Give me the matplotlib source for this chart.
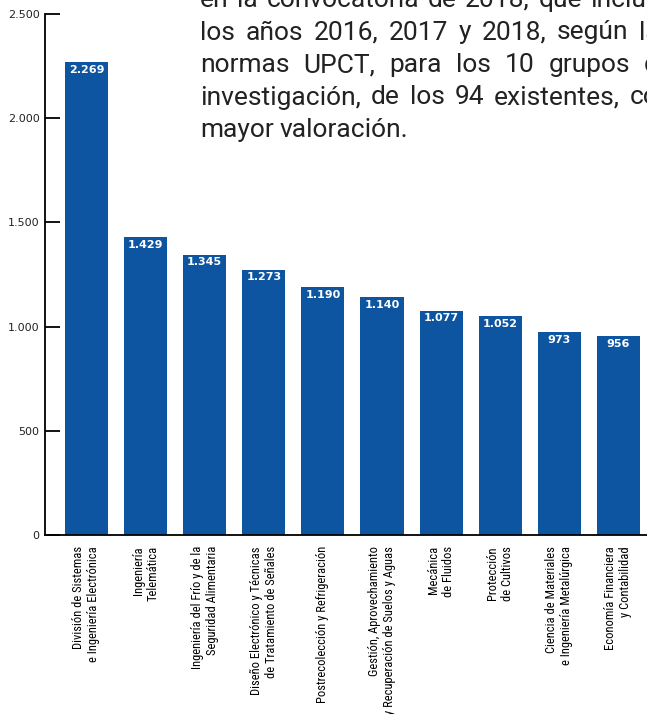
import matplotlib.pyplot as plt

grupos = [
    "División de Sistemas\ne Ingeniería Electrónica",
    "Ingeniería\nTelemática",
    "Ingeniería del Frío y de la\nSeguridad Alimentaria",
    "Diseño Electrónico y Técnicas\nde Tratamiento de Señales",
    "Postrecolección y Refrigeración",
    "Gestión, Aprovechamiento\ny Recuperación de Suelos y Aguas",
    "Mecánica\nde Fluidos",
    "Protección\nde Cultivos",
    "Ciencia de Materiales\ne Ingeniería Metalúrgica",
    "Economía Financiera\ny Contabilidad",
]
valoracion = [2269, 1429, 1345, 1273, 1190, 1140, 1077, 1052, 973, 956]
yticks = [0, 500, 1000, 1500, 2000, 2500]
ytick_labels = ["0", "500", "1.000", "1.500", "2.000", "2.500"]

texto = [
    "en la convocatoria de 2018, que incluye",
    "los años 2016, 2017 y 2018, según las",
    "normas UPCT, para los 10 grupos de",
    "investigación, de los 94 existentes, con",
    "mayor valoración.",
]

azul = "#0d55a1"
narrow = ["Liberation Sans Narrow", "DejaVu Sans Condensed",
          "Roboto Condensed", "Open Sans Condensed"]

fig = plt.figure(figsize=(6.47, 7.14), dpi=100)
W, H = 647, 714
ax = fig.add_axes([45 / W, 1 - 535 / H, 1 - 45 / W, (535 - 14) / H])

x = list(range(len(valoracion)))
bars = ax.bar(x, valoracion, width=0.73, color=azul, zorder=2)

for b, v in zip(bars, valoracion):
    etiqueta = f"{v:,}".replace(",", ".")
    ax.annotate(etiqueta, (b.get_x() + b.get_width() / 2, v),
                xytext=(0, -2), textcoords="offset points",
                ha="center", va="top", color="white",
                fontsize=8, fontweight="bold", family="DejaVu Sans")

ax.set_xlim(-0.702, 9.484)
ax.set_ylim(0, 2500)
ax.set_yticks(yticks)
ax.set_yticklabels(ytick_labels, fontsize=8, color="#222222")
ax.tick_params(axis="y", direction="in", length=11, width=1.3, pad=4)
ax.set_xticks(x)
ax.set_xticklabels(grupos, rotation=90, ha="center", va="top",
                   multialignment="right", fontsize=9,
                   family=narrow, fontstretch="condensed")
ax.tick_params(axis="x", length=0, pad=8)

for s in ["top", "right"]:
    ax.spines[s].set_visible(False)
for s in ["left", "bottom"]:
    ax.spines[s].set_linewidth(1.3)
    ax.spines[s].set_color("black")

# párrafo justificado en la parte superior, cortado por el borde derecho
renderer = fig.canvas.get_renderer()
x0, ancho = 200, 473
estilo = dict(fontsize=19, color="#222222", family="Roboto",
              va="center", ha="left")
for i, linea in enumerate(texto):
    y = 1 - (0 + 32.5 * i) / H
    palabras = linea.split()
    ultima = i == len(texto) - 1
    objs = [fig.text(0, y, p, **estilo) for p in palabras]
    anchos = [t.get_window_extent(renderer).width for t in objs]
    if ultima or len(palabras) == 1:
        hueco = 6
    else:
        hueco = (ancho - sum(anchos)) / (len(palabras) - 1)
    pos = x0
    for t, w in zip(objs, anchos):
        t.set_x(pos / W)
        pos += w + hueco

fig.savefig("out.png", dpi=100)
